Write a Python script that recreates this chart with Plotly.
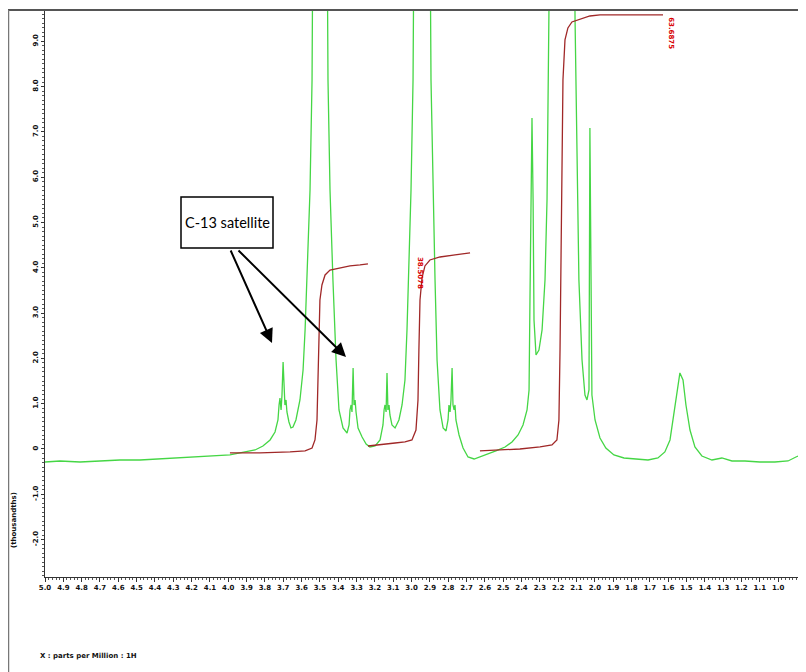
import plotly.graph_objects as go

# ---------------- data ----------------
spec_ppm = [5.000, 4.918, 4.809, 4.700, 4.591, 4.482, 4.373, 4.263, 4.154, 4.072,
            3.991, 3.909, 3.854, 3.811, 3.772, 3.745, 3.729, 3.723, 3.718, 3.712,
            3.707, 3.701, 3.696, 3.691, 3.685, 3.680, 3.669, 3.658, 3.647, 3.631,
            3.609, 3.592, 3.581, 3.565, 3.554, 3.543, 3.500, 3.456, 3.445, 3.429,
            3.412, 3.396, 3.374, 3.352, 3.341, 3.336, 3.330, 3.325, 3.319, 3.314,
            3.308, 3.303, 3.292, 3.270, 3.248, 3.227, 3.199, 3.172, 3.156, 3.150,
            3.145, 3.139, 3.134, 3.129, 3.123, 3.118, 3.107, 3.090, 3.069, 3.052,
            3.036, 3.025, 3.014, 3.003, 2.992, 2.943, 2.894, 2.883, 2.872, 2.861,
            2.845, 2.828, 2.812, 2.801, 2.796, 2.790, 2.785, 2.779, 2.774, 2.768,
            2.763, 2.758, 2.741, 2.719, 2.692, 2.659, 2.627, 2.583, 2.540, 2.490,
            2.452, 2.419, 2.392, 2.370, 2.359, 2.354, 2.348, 2.343, 2.337, 2.332,
            2.321, 2.305, 2.288, 2.272, 2.261, 2.250, 2.239, 2.174, 2.108, 2.097,
            2.087, 2.070, 2.054, 2.043, 2.032, 2.027, 2.021, 2.016, 1.999, 1.972,
            1.940, 1.896, 1.841, 1.776, 1.710, 1.656, 1.618, 1.590, 1.569, 1.552,
            1.536, 1.519, 1.503, 1.481, 1.454, 1.416, 1.361, 1.307, 1.252, 1.181,
            1.100, 1.018, 0.946, 0.903, 0.876, 0.848]
spec_val = [-0.287, -0.265, -0.287, -0.265, -0.243, -0.243, -0.221, -0.199, -0.177, -0.155,
            -0.132, -0.066, -0.022, 0.066, 0.199, 0.375, 0.640, 0.971, 1.126, 0.861,
            1.192, 1.921, 1.192, 0.971, 1.082, 0.817, 0.596, 0.464, 0.486, 0.640,
            1.082, 1.744, 2.627, 4.393, 5.717, 8.146, 40.0, 8.146, 5.717, 3.731,
            1.965, 0.861, 0.464, 0.353, 0.530, 0.861, 0.971, 0.817, 1.788, 0.971,
            1.082, 0.817, 0.464, 0.265, 0.110, 0.044, 0.066, 0.199, 0.530, 0.861,
            0.971, 0.817, 1.678, 0.861, 0.971, 0.751, 0.530, 0.464, 0.640, 0.971,
            1.523, 2.627, 4.172, 5.717, 8.146, 40.0, 8.146, 5.717, 3.731, 1.965,
            0.861, 0.464, 0.397, 0.640, 0.971, 0.817, 1.082, 1.788, 0.971, 0.861,
            0.971, 0.640, 0.309, 0.022, -0.177, -0.221, -0.177, -0.110, -0.044, 0.044,
            0.155, 0.309, 0.530, 0.861, 1.302, 3.289, 5.938, 7.307, 5.497, 2.848,
            2.075, 2.185, 2.627, 3.731, 5.497, 7.704, 9.470, 40.0, 9.470, 6.600,
            3.731, 1.965, 1.192, 1.082, 1.302, 7.086, 3.289, 1.192, 0.640, 0.243,
            0.022, -0.132, -0.199, -0.221, -0.243, -0.199, -0.066, 0.199, 0.751, 1.302,
            1.678, 1.523, 0.971, 0.419, 0.044, -0.155, -0.243, -0.199, -0.265, -0.265,
            -0.287, -0.287, -0.265, -0.177, -0.132, -0.221]

int1_ppm = [3.991, 3.827, 3.663, 3.581, 3.543, 3.527, 3.516, 3.510, 3.505, 3.500,
            3.489, 3.472, 3.445, 3.390, 3.336, 3.281, 3.238]
int1_val = [-0.088, -0.088, -0.066, -0.044, 0.022, 0.199, 0.640, 1.523, 2.627, 3.289,
            3.620, 3.841, 3.951, 3.996, 4.040, 4.062, 4.084]

int2_ppm = [3.238, 3.172, 3.090, 3.036, 2.998, 2.976, 2.965, 2.960, 2.954, 2.943,
            2.927, 2.900, 2.845, 2.763, 2.681]
int2_val = [0.066, 0.088, 0.132, 0.155, 0.199, 0.419, 1.082, 2.185, 3.289, 3.775,
            4.040, 4.172, 4.238, 4.283, 4.327]

int3_ppm = [2.627, 2.518, 2.409, 2.299, 2.234, 2.207, 2.196, 2.190, 2.185, 2.179,
            2.174, 2.163, 2.147, 2.125, 2.081, 2.027, 1.972, 1.808, 1.628]
int3_val = [-0.044, -0.022, 0.000, 0.044, 0.088, 0.199, 0.640, 2.185, 4.393, 6.600,
            8.146, 9.029, 9.294, 9.426, 9.492, 9.558, 9.581, 9.581, 9.581]

int_labels = ["38.5078", "63.6875"]
int_label_ppm = [2.954, 1.585]
int_label_val = [3.885, 9.18]

x_tick_vals = [5.0, 4.9, 4.8, 4.7, 4.6, 4.5, 4.4, 4.3, 4.2, 4.1, 4.0, 3.9, 3.8, 3.7,
               3.6, 3.5, 3.4, 3.3, 3.2, 3.1, 3.0, 2.9, 2.8, 2.7, 2.6, 2.5, 2.4, 2.3,
               2.2, 2.1, 2.0, 1.9, 1.8, 1.7, 1.6, 1.5, 1.4, 1.3, 1.2, 1.1, 1.0]
x_tick_text = ["5.0", "4.9", "4.8", "4.7", "4.6", "4.5", "4.4", "4.3", "4.2", "4.1",
               "4.0", "3.9", "3.8", "3.7", "3.6", "3.5", "3.4", "3.3", "3.2", "3.1",
               "3.0", "2.9", "2.8", "2.7", "2.6", "2.5", "2.4", "2.3", "2.2", "2.1",
               "2.0", "1.9", "1.8", "1.7", "1.6", "1.5", "1.4", "1.3", "1.2", "1.1",
               "1.0"]
y_tick_vals = [9, 8, 7, 6, 5, 4, 3, 2, 1, 0, -1, -2]
y_tick_text = ["9.0", "8.0", "7.0", "6.0", "5.0", "4.0", "3.0", "2.0", "1.0", "0", "-1.0", "-2.0"]

x_title = "X : parts per Million : 1H"
y_title = "(thousandths)"
callout_text = "C-13 satellite"

# ---------------- layout geometry ----------------
# The page body has an 8px margin, so figure pixel = page pixel - 8.
OFF = 8
W, H = 806, 672
ML, MT = 45 - OFF, 10 - OFF          # plot left / top in figure pixels
PR, PB = 806 - OFF, 577 - OFF        # plot right / bottom in figure pixels
MR, MB = W - PR, H - PB
PW, PH = PR - ML, PB - MT


def px(x):
    """page pixel x -> paper x"""
    return (x - OFF - ML) / PW


def py(y):
    """page pixel y -> paper y"""
    return (PB - (y - OFF)) / PH


GREEN = "#45d645"
INTEG = "#a02828"
LABEL_RED = "#d80000"

fig = go.Figure()
fig.add_trace(go.Scatter(x=spec_ppm, y=spec_val, mode="lines",
                         line=dict(color=GREEN, width=1.3), hoverinfo="skip"))
for xs, ys in [(int1_ppm, int1_val), (int2_ppm, int2_val), (int3_ppm, int3_val)]:
    fig.add_trace(go.Scatter(x=xs, y=ys, mode="lines",
                             line=dict(color=INTEG, width=1.3), hoverinfo="skip"))

tickfont = dict(family="DejaVu Sans", size=7, color="#111111", weight="bold")

fig.update_layout(
    width=W, height=H,
    margin=dict(l=ML, r=MR, t=MT, b=MB, pad=0, autoexpand=False),
    paper_bgcolor="white", plot_bgcolor="white",
    showlegend=False,
    xaxis=dict(range=[5.0, 0.848], showgrid=False, zeroline=False, automargin=False,
               showline=True, linecolor="#333333", linewidth=1,
               tickmode="array", tickvals=x_tick_vals, ticktext=x_tick_text,
               ticks="outside", ticklen=4, tickwidth=1, tickcolor="#333333",
               tickfont=tickfont,
               minor=dict(tickmode="linear", tick0=0, dtick=0.02, ticks="outside",
                          ticklen=2, tickcolor="#555555")),
    yaxis=dict(range=[-2.826, 9.69], showgrid=False, zeroline=False, automargin=False,
               showline=True, linecolor="#333333", linewidth=1,
               tickmode="array", tickvals=y_tick_vals, ticktext=y_tick_text,
               tickangle=-90,
               ticks="outside", ticklen=3, tickwidth=1, tickcolor="#333333",
               tickfont=tickfont,
               minor=dict(tickmode="linear", tick0=0, dtick=0.1, ticks="outside",
                          ticklen=2, tickcolor="#555555")),
)

# outer frame lines (top and left)
fig.add_shape(type="line", xref="paper", yref="paper",
              x0=px(8), x1=px(814), y0=py(10), y1=py(10),
              line=dict(color="#555555", width=2))
fig.add_shape(type="line", xref="paper", yref="paper",
              x0=px(8.5), x1=px(8.5), y0=py(10), y1=py(680),
              line=dict(color="#777777", width=1.5))

# integral labels
for t, xv, yv in zip(int_labels, int_label_ppm, int_label_val):
    fig.add_annotation(x=xv, y=yv, xref="x", yref="y", text=t, showarrow=False,
                       textangle=90, xanchor="center", yanchor="middle",
                       font=dict(family="DejaVu Sans", size=7, color=LABEL_RED, weight="bold"))

# callout box + text
fig.add_shape(type="rect", xref="paper", yref="paper",
              x0=px(181), x1=px(273), y0=py(248), y1=py(197),
              line=dict(color="black", width=1.5), fillcolor="white")
fig.add_annotation(x=px(227), y=py(222), xref="paper", yref="paper",
                   text=callout_text, showarrow=False,
                   xanchor="center", yanchor="middle",
                   font=dict(family="Lato", size=14.5, color="black"))

# arrows
for head, tail in [((272, 343), (230, 249)), ((346, 357), (237, 249))]:
    fig.add_annotation(x=px(head[0]), y=py(head[1]), xref="paper", yref="paper",
                       ax=tail[0] - head[0], ay=tail[1] - head[1],
                       axref="pixel", ayref="pixel",
                       text="", showarrow=True, arrowhead=2, arrowsize=1.4,
                       arrowwidth=2, arrowcolor="black", standoff=0)

# axis titles
fig.add_annotation(x=px(14), y=py(520), xref="paper", yref="paper",
                   text=y_title, showarrow=False, textangle=-90,
                   xanchor="center", yanchor="middle",
                   font=dict(family="DejaVu Sans", size=7, color="#111111", weight="bold"))
fig.add_annotation(x=px(38), y=py(656), xref="paper", yref="paper",
                   text=x_title, showarrow=False, xanchor="left", yanchor="middle",
                   font=dict(family="DejaVu Sans", size=7, color="#111111", weight="bold"))

fig.write_html("out.html")
